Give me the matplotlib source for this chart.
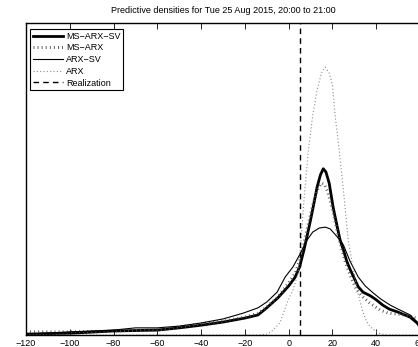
import matplotlib
matplotlib.use("Agg")
import matplotlib.pyplot as plt

title = "Predictive densities for Tue 25 Aug 2015, 20:00 to 21:00"
labels = ["MS\u2212ARX\u2212SV", "MS\u2212ARX", "ARX\u2212SV", "ARX", "Realization"]
realization = 5
xticks = [-120, -100, -80, -60, -40, -20, 0, 20, 40, 60]

# MS-ARX-SV
x_msarxsv = [-120, -100, -80, -60, -50, -40, -30, -20, -14, -10, -5, 0, 3, 5, 7, 8.5, 10,
             11.2, 13, 14.5, 15.8, 17, 18.5, 20.3, 22, 23.5, 25, 26.5, 28, 31.8, 34, 37.3,
             40, 43, 46, 49.6, 55.5, 58.7, 60]
y_msarxsv = [0.0002, 0.0004, 0.0009, 0.0011, 0.0016, 0.0022, 0.0029, 0.0038, 0.0045, 0.0061,
             0.0083, 0.0110, 0.0130, 0.0153, 0.0191, 0.0224, 0.0258, 0.0287, 0.0332, 0.0359,
             0.0373, 0.0366, 0.0341, 0.0287, 0.0247, 0.0213, 0.0191, 0.0166, 0.0148, 0.0108,
             0.0096, 0.0088, 0.0079, 0.0067, 0.0058, 0.0052, 0.0040, 0.0027, 0.0018]

# MS-ARX
x_msarx = [-120, -100, -80, -60, -50, -40, -30, -20, -14, -10, -5, 0, 3, 5, 7, 9, 11, 13,
           15, 16.5, 18, 20, 22, 24, 26, 28, 31, 34, 37, 41.8, 45.5, 50, 55, 58, 60]
y_msarx = [0.0007, 0.0007, 0.0009, 0.0011, 0.0018, 0.0025, 0.0031, 0.0040, 0.0049, 0.0063,
           0.0085, 0.0117, 0.0139, 0.0168, 0.0206, 0.0251, 0.0292, 0.0325, 0.0341, 0.0337,
           0.0319, 0.0281, 0.0236, 0.0197, 0.0162, 0.0135, 0.0101, 0.0085, 0.0072, 0.0056,
           0.0049, 0.0047, 0.0043, 0.0038, 0.0034]

# ARX-SV
x_arxsv = [-120, -100, -80, -70, -60, -50, -40, -30, -20.8, -14, -10, -5.3, -1.6, 2, 5, 8.4,
           11, 14, 16.7, 19, 21.5, 23.5, 25, 28, 31.8, 35, 38.7, 42, 46.4, 50, 55.5, 58.7, 60]
y_arxsv = [0.0002, 0.0007, 0.0011, 0.0016, 0.0016, 0.0020, 0.0027, 0.0036, 0.0049, 0.0061,
           0.0074, 0.0096, 0.0130, 0.0153, 0.0180, 0.0213, 0.0231, 0.0240, 0.0242, 0.0238,
           0.0224, 0.0213, 0.0202, 0.0166, 0.0130, 0.0110, 0.0094, 0.0081, 0.0067, 0.0058,
           0.0045, 0.0029, 0.0020]

# ARX
x_arx = [-120, -14, -10, -8, -4, -0.2, 2, 4.3, 5.5, 7.1, 9, 10.9, 13, 15, 16.7, 18.5, 20,
         21.3, 23.1, 25, 27.2, 29, 31.3, 33.6, 35.5, 37.3, 41, 45, 60]
y_arx = [0.0, 0.0, 0.0002, 0.0007, 0.0027, 0.0079, 0.0101, 0.0139, 0.0202, 0.0310, 0.0415,
         0.0489, 0.0550, 0.0588, 0.0601, 0.0588, 0.0561, 0.0489, 0.0415, 0.0325, 0.0213,
         0.0162, 0.0101, 0.0056, 0.0031, 0.0018, 0.0004, 0.0, 0.0]

plt.rcParams['font.family'] = ['Liberation Sans', 'DejaVu Sans']

fig = plt.figure(figsize=(4.18, 3.47), dpi=100)
ax = fig.add_axes([26 / 418, 12 / 347, 394 / 418, 312 / 347])

ax.plot(x_msarxsv, y_msarxsv, color='black', lw=2.0, label=labels[0])
ax.plot(x_msarx, y_msarx, color='#4a4a4a', lw=2.1, linestyle=(0, (0.3, 1.1)),
        dash_capstyle='butt', label=labels[1])
ax.plot(x_arxsv, y_arxsv, color='black', lw=0.8, label=labels[2])
ax.plot(x_arx, y_arx, color='#8c8c8c', lw=0.8, linestyle=(0, (1, 2)), label=labels[3])
ax.axvline(realization, color='black', lw=1.0, linestyle=(0, (4, 3)), label=labels[4])

ax.set_xlim(-120, 60)
ax.set_ylim(0, 0.07)
ax.set_xticks(xticks)
ax.set_xticklabels([str(t).replace('-', '\u2212') for t in xticks])
ax.set_yticks([])
ax.tick_params(axis='x', direction='in', top=True, length=4, width=0.6,
               labelsize=6.5, pad=3)
for s in ax.spines.values():
    s.set_linewidth(1.0)

ax.set_title(title, fontsize=6.5, pad=7)

leg = ax.legend(loc='upper left', bbox_to_anchor=(4 / 394, 1 - 6 / 312), fontsize=6.5,
                frameon=True, fancybox=False, edgecolor='black', framealpha=1,
                borderpad=0.3, labelspacing=0.3, handlelength=3.4, handletextpad=0.3,
                borderaxespad=0.0)
leg.get_frame().set_linewidth(0.8)

fig.savefig("out.png", dpi=100)
